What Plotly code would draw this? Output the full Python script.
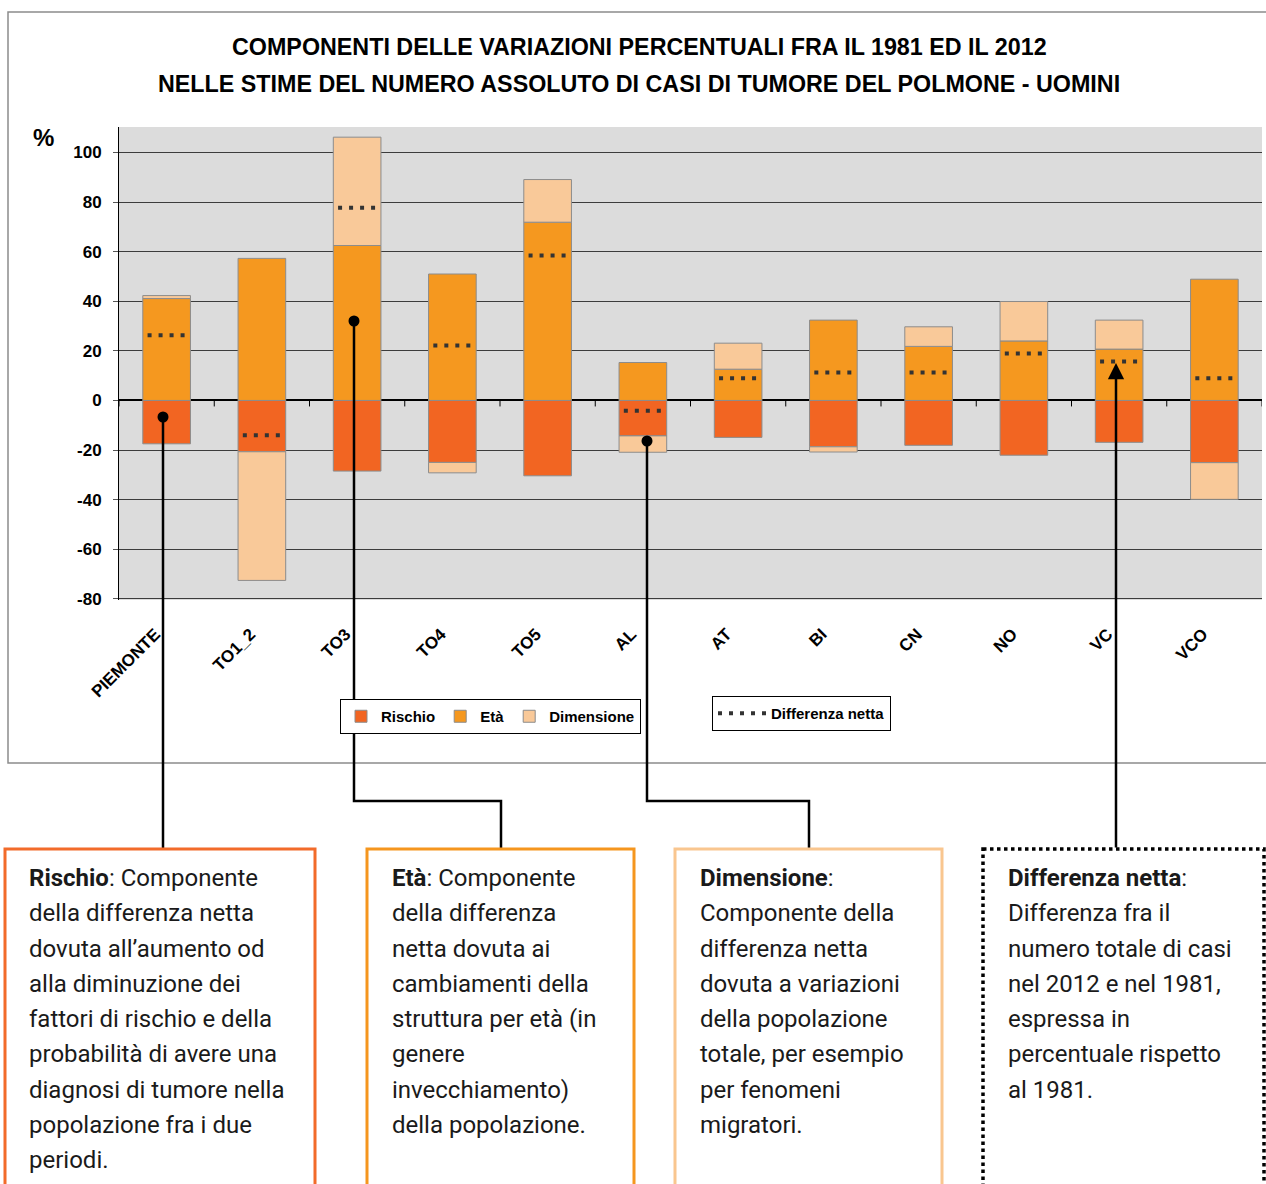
import plotly.graph_objects as go

# ---------------- data ----------------
categories = ["PIEMONTE", "TO1_2", "TO3", "TO4", "TO5", "AL", "AT", "BI", "CN", "NO", "VC", "VCO"]
rischio = [-17.5, -20.7, -28.5, -25.0, -30.4, -14.3, -14.9, -18.7, -18.1, -22.1, -16.9, -25.1]
eta = [41.1, 57.3, 62.5, 51.0, 71.9, 15.3, 12.6, 32.4, 21.8, 24.0, 20.7, 48.9]
dimensione = [1.2, -51.9, 43.7, -4.2, 17.2, -6.6, 10.5, -2.1, 7.9, 15.9, 11.7, -14.8]
differenza_netta = [26.3, -14.0, 77.7, 22.2, 58.5, -4.2, 9.0, 11.3, 11.3, 18.9, 15.7, 9.0]
y_ticks = [-80, -60, -40, -20, 0, 20, 40, 60, 80, 100]

title_lines = ["COMPONENTI DELLE VARIAZIONI PERCENTUALI FRA IL 1981 ED IL 2012",
               "NELLE STIME DEL NUMERO ASSOLUTO DI CASI DI TUMORE DEL POLMONE - UOMINI"]

box_rischio = ["<b>Rischio</b>: Componente", "della differenza netta", "dovuta all\u2019aumento od",
               "alla diminuzione dei", "fattori di rischio e della", "probabilit\u00e0 di avere una",
               "diagnosi di tumore nella", "popolazione fra i due", "periodi."]
box_eta = ["<b>Et\u00e0</b>: Componente", "della differenza", "netta dovuta ai", "cambiamenti della",
           "struttura per et\u00e0 (in", "genere", "invecchiamento)", "della popolazione."]
box_dim = ["<b>Dimensione</b>:", "Componente della", "differenza netta", "dovuta a variazioni",
           "della popolazione", "totale, per esempio", "per fenomeni", "migratori."]
box_diff = ["<b>Differenza netta</b>:", "Differenza fra il", "numero totale di casi",
            "nel 2012 e nel 1981,", "espressa in", "percentuale rispetto", "al 1981."]

# ---------------- geometry helpers ----------------
W, H = 1266, 1184
L, R, T, B = 119, 1262, 127, 600
Y_MIN, Y_MAX = -80.5, 110.3


def px(x):
    return (x - L) / (R - L)


def py(y):
    return (B - y) / (B - T)


SANS = "Liberation Sans, Arial, sans-serif"
BOXF = "Roboto, Arial, sans-serif"

C_RIS = "#F26522"
C_ETA = "#F5981F"
C_DIM = "#F9C999"

xs = list(range(len(categories)))

fig = go.Figure()
bar_line = dict(color="#8c8c8c", width=1)
fig.add_bar(x=xs, y=rischio, name="Rischio", width=0.5,
            marker=dict(color=C_RIS, line=bar_line), legend="legend")
fig.add_bar(x=xs, y=eta, name="Et\u00e0", width=0.5,
            marker=dict(color=C_ETA, line=bar_line), legend="legend")
fig.add_bar(x=xs, y=dimensione, name="Dimensione", width=0.5,
            marker=dict(color=C_DIM, line=bar_line), legend="legend")

seg_x, seg_y = [], []
for i, v in enumerate(differenza_netta):
    seg_x += [i - 0.2, i + 0.26, None]
    seg_y += [v, v, None]
fig.add_scatter(x=seg_x, y=seg_y, mode="lines", name="Differenza netta",
                line=dict(color="#333333", width=4, dash="4px,7px"),
                legend="legend2", connectgaps=False)

shapes = []
# outer border of the chart
shapes.append(dict(type="rect", xref="paper", yref="paper",
                   x0=px(8), x1=px(1272), y0=py(12), y1=py(763),
                   line=dict(color="#8c8c8c", width=1.5)))
# category boundary ticks on the zero line
zero_p = (0 - Y_MIN) / (Y_MAX - Y_MIN)
for b in range(len(categories) + 1):
    shapes.append(dict(type="line", xref="x", yref="paper",
                       x0=b - 0.5, x1=b - 0.5, y0=zero_p, y1=zero_p - 6 / (B - T),
                       line=dict(color="black", width=1)))


def path(points):
    return "M " + " L ".join(f"{px(a):.5f},{py(b):.5f}" for a, b in points)


conn = [
    [(163, 417), (163, 849)],
    [(354, 321), (354, 801), (501, 801), (501, 849)],
    [(647, 441), (647, 801), (809, 801), (809, 849)],
]
for pts in conn:
    shapes.append(dict(type="path", xref="paper", yref="paper", path=path(pts),
                       line=dict(color="black", width=2.5)))
    cx, cy = pts[0]
    r = 5.5
    shapes.append(dict(type="circle", xref="paper", yref="paper",
                       x0=px(cx - r), x1=px(cx + r), y0=py(cy - r), y1=py(cy + r),
                       fillcolor="black", line=dict(color="black", width=0)))

# text boxes
boxes = [
    (5, 315, "#F26B2A", "solid"),
    (367, 634, "#F5961E", "solid"),
    (675, 942, "#F9C68F", "solid"),
    (983, 1264, "black", "dot"),
]
for x0, x1, col, dash in boxes:
    shapes.append(dict(type="rect", xref="paper", yref="paper",
                       x0=px(x0), x1=px(x1), y0=py(849), y1=py(1192),
                       line=dict(color=col, width=3 if dash == "solid" else 3.5, dash=dash)))

annotations = []
for k, t in enumerate(title_lines):
    annotations.append(dict(xref="paper", yref="paper", x=px(639), y=py(47 + 37 * k),
                            xanchor="center", yanchor="middle", showarrow=False, text=t,
                            font=dict(family=SANS, size=23.3, color="black", weight="bold")))
annotations.append(dict(xref="paper", yref="paper", x=px(43), y=py(137), xanchor="center",
                        yanchor="middle", showarrow=False, text="%",
                        font=dict(family=SANS, size=24, color="black", weight="bold")))

for lines, x0 in [(box_rischio, 27), (box_eta, 390), (box_dim, 698), (box_diff, 1006)]:
    for k, t in enumerate(lines):
        annotations.append(dict(xref="paper", yref="paper", x=px(x0), y=py(878 + 35.25 * k),
                                xanchor="left", yanchor="middle", showarrow=False, text=t,
                                align="left",
                                font=dict(family=BOXF, size=24, color="#1a1a1a")))

# arrow to VC net difference
annotations.append(dict(xref="paper", yref="paper", x=px(1116), y=py(363), text="",
                        showarrow=True, axref="pixel", ayref="pixel", ax=0, ay=849 - 363,
                        arrowhead=2, arrowsize=1.3, arrowwidth=2.5, arrowcolor="black",
                        standoff=0, startstandoff=0))

fig.update_layout(
    width=W, height=H,
    margin=dict(l=L, r=W - R, t=T, b=H - B, pad=0),
    barmode="relative",
    plot_bgcolor="#DCDCDC",
    paper_bgcolor="white",
    showlegend=True,
    xaxis=dict(range=[-0.5, len(categories) - 0.5], tickmode="array",
               tickvals=[i - 0.12 for i in xs],
               ticktext=categories, tickangle=-45, showgrid=False, zeroline=False,
               showline=False, ticks="", ticklabelstandoff=20,
               tickfont=dict(family=SANS, size=17, color="black", weight="bold")),
    yaxis=dict(range=[Y_MIN, Y_MAX], tickmode="array", tickvals=y_ticks,
               ticktext=[str(v) for v in y_ticks],
               showgrid=True, gridcolor="#3c3c3c", gridwidth=1,
               zeroline=True, zerolinecolor="black", zerolinewidth=1.5,
               showline=True, linecolor="black", linewidth=1,
               ticks="outside", ticklen=5, tickcolor="#555555", ticklabelstandoff=8,
               tickfont=dict(family=SANS, size=17, color="black", weight="bold")),
    legend=dict(x=px(340), y=py(699), xanchor="left", yanchor="top", orientation="h",
                bgcolor="white", bordercolor="black", borderwidth=1,
                font=dict(family=SANS, size=15, color="black", weight="bold"),
                itemwidth=30, traceorder="normal"),
    legend2=dict(x=px(712), y=py(696), xanchor="left", yanchor="top", orientation="h",
                 bgcolor="white", bordercolor="black", borderwidth=1,
                 font=dict(family=SANS, size=15, color="black", weight="bold"),
                 itemwidth=48),
    shapes=shapes,
    annotations=annotations,
)

fig.write_html("out.html", config={"displayModeBar": False},
               post_script="document.body.style.margin='0';")
